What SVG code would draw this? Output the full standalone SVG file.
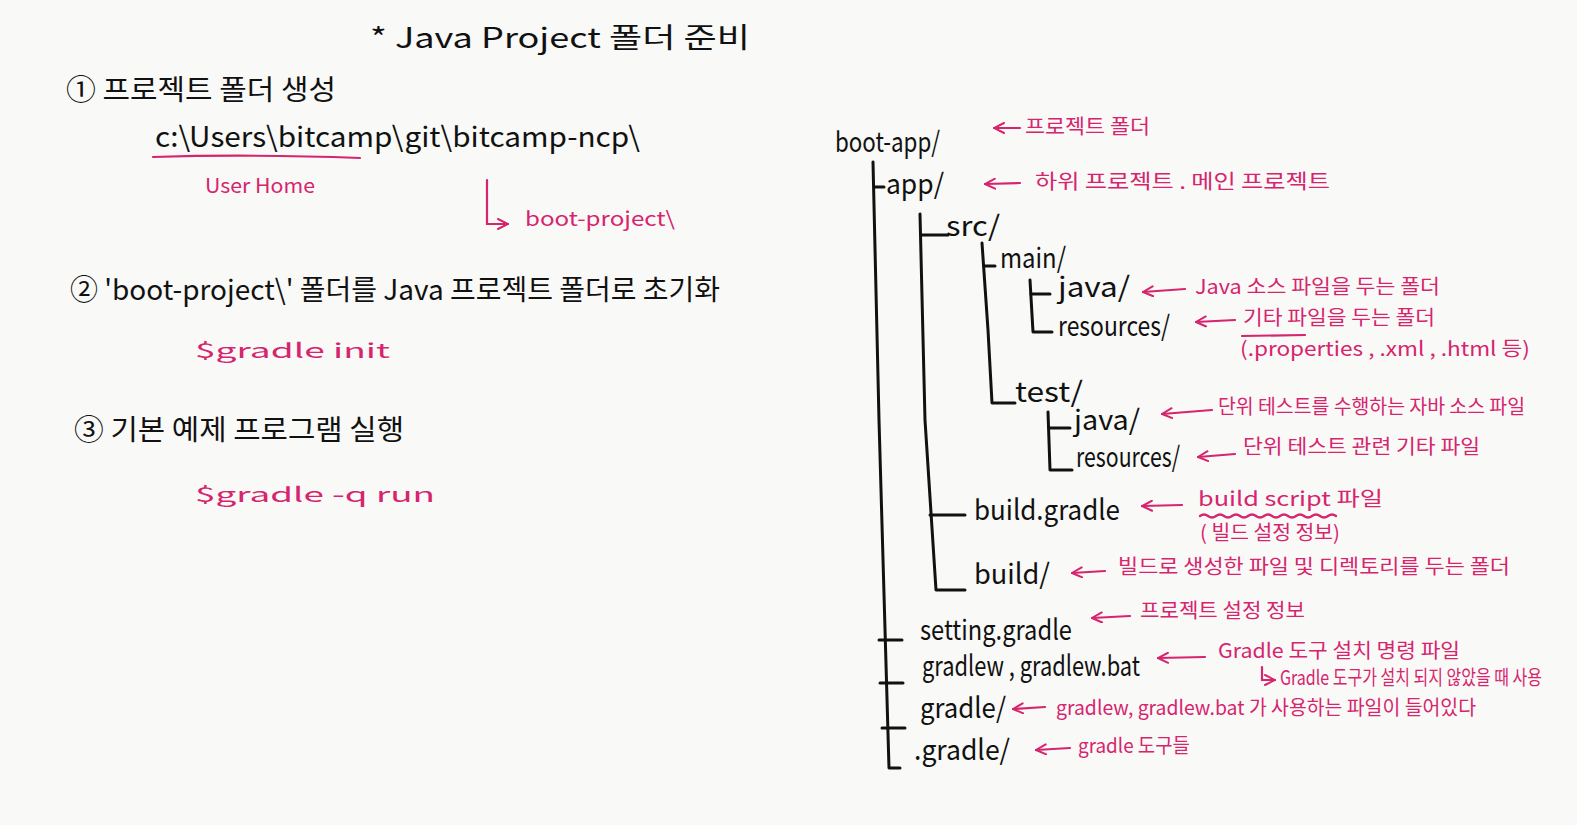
<svg xmlns="http://www.w3.org/2000/svg" width="1577" height="825" viewBox="0 0 1577 825">
<defs>
<marker id="ah" viewBox="0 0 12 12" refX="1" refY="6" markerWidth="12" markerHeight="12" markerUnits="userSpaceOnUse" orient="auto">
<path d="M11,1 L1,6 L11,11" fill="none" stroke="#d6246e" stroke-width="2" stroke-linecap="round"/>
</marker>
<marker id="ahr" viewBox="0 0 12 12" refX="11" refY="6" markerWidth="12" markerHeight="12" markerUnits="userSpaceOnUse" orient="auto">
<path d="M1,1 L11,6 L1,11" fill="none" stroke="#d6246e" stroke-width="2" stroke-linecap="round"/>
</marker>
<style>
text{font-family:"Noto Sans CJK KR","Noto Sans",sans-serif;}
.k{fill:#111;font-size:28px;}
.p{fill:#d6246e;font-size:20px;}
.tl{fill:none;stroke:#111;stroke-width:3;stroke-linecap:round;stroke-linejoin:round;}
.pa{fill:none;stroke:#d6246e;stroke-width:2.2;stroke-linecap:round;}
</style>
</defs>
<rect width="1577" height="825" fill="#f9f9f7"/>

<g id="left">
<text class="k" x="370" y="48" font-size="32" textLength="380" lengthAdjust="spacingAndGlyphs">* Java  Project 폴더 준비</text>
<text id="step1" class="k" x="66" y="100" textLength="270" lengthAdjust="spacingAndGlyphs">①  프로젝트 폴더 생성</text>
<text class="k" x="155" y="147" font-size="34" textLength="485" lengthAdjust="spacingAndGlyphs">c:\Users\bitcamp\git\bitcamp-ncp\</text>
<path class="pa" d="M153,157 Q250,154 360,158"/>
<text class="p" x="205" y="193" font-size="22" textLength="110" lengthAdjust="spacingAndGlyphs">User Home</text>
<text class="p" x="525" y="226" font-size="26" textLength="150" lengthAdjust="spacingAndGlyphs">boot-project\</text>
<text id="step2" class="k" x="70" y="300" textLength="650" lengthAdjust="spacingAndGlyphs">② 'boot-project\' 폴더를 Java 프로젝트 폴더로 초기화</text>
<text class="p" x="195" y="358" font-size="32" textLength="195" lengthAdjust="spacingAndGlyphs">$gradle  init</text>
<text id="step3" class="k" x="74" y="440" textLength="330" lengthAdjust="spacingAndGlyphs">③  기본 예제 프로그램  실행</text>
<text class="p" x="195" y="502" font-size="32" textLength="240" lengthAdjust="spacingAndGlyphs">$gradle  -q  run</text>
</g>

<g id="connectors">
<path class="pa" d="M487,180 L487,224 L508,224" marker-end="url(#ahr)"/>
<path class="tl" d="M873,162 L879,420 L889,768 L900,768"/>
<path class="tl" d="M875,187 L884,187"/>
<path class="tl" d="M879,640 L902,640"/>
<path class="tl" d="M880,683 L903,683"/>
<path class="tl" d="M882,728 L905,728"/>
<path class="tl" d="M920,214 L925,420 L936,590 L965,590"/>
<path class="tl" d="M922,235 L948,235"/>
<path class="tl" d="M930,515 L965,515"/>
<path class="tl" d="M982,243 L988,330 L992,403 L1015,403"/>
<path class="tl" d="M984,266 L995,266"/>
<path class="tl" d="M1030,280 L1033,332 L1052,332"/>
<path class="tl" d="M1031,294 L1050,294"/>
<path class="tl" d="M1048,412 L1050,470 L1072,470"/>
<path class="tl" d="M1049,428 L1070,428"/>
<path class="pa" d="M994,128 L1020,128" marker-start="url(#ah)"/>
<path class="pa" d="M985,184 L1020,183" marker-start="url(#ah)"/>
<path class="pa" d="M1143,292 L1185,289" marker-start="url(#ah)"/>
<path class="pa" d="M1196,322 L1235,320" marker-start="url(#ah)"/>
<path class="pa" d="M1162,414 L1212,410" marker-start="url(#ah)"/>
<path class="pa" d="M1198,457 L1235,454" marker-start="url(#ah)"/>
<path class="pa" d="M1142,506 L1182,505" marker-start="url(#ah)"/>
<path class="pa" d="M1072,573 L1105,571" marker-start="url(#ah)"/>
<path class="pa" d="M1092,618 L1130,616" marker-start="url(#ah)"/>
<path class="pa" d="M1158,658 L1205,657" marker-start="url(#ah)"/>
<path class="pa" d="M1013,709 L1045,707" marker-start="url(#ah)"/>
<path class="pa" d="M1036,750 L1070,748" marker-start="url(#ah)"/>
<path class="pa" d="M1262,667 L1262,680 L1275,680" marker-end="url(#ahr)"/>
</g>

<g id="boot-app"><text class="k" x="835" y="152" font-size="30" textLength="105" lengthAdjust="spacingAndGlyphs">boot-app/</text>
<text class="p" x="1025" y="134" textLength="125" lengthAdjust="spacingAndGlyphs">프로젝트 폴더</text></g>
<g id="app"><text class="k" x="886" y="194" textLength="58" lengthAdjust="spacingAndGlyphs">app/</text>
<text class="p" x="1035" y="189" font-size="24" textLength="295" lengthAdjust="spacingAndGlyphs">하위 프로젝트 .  메인 프로젝트</text></g>
<g id="src"><text class="k" x="946" y="236" font-size="23" textLength="54" lengthAdjust="spacingAndGlyphs">src/</text></g>
<g id="main"><text class="k" x="1000" y="268" font-size="22" textLength="66" lengthAdjust="spacingAndGlyphs">main/</text></g>
<g id="main-java"><text class="k" x="1058" y="297" font-size="21" textLength="72" lengthAdjust="spacingAndGlyphs">java/</text>
<text class="p" x="1195" y="294" textLength="245" lengthAdjust="spacingAndGlyphs">Java 소스 파일을 두는 폴더</text></g>
<g id="main-resources"><text class="k" x="1058" y="336" font-size="21" textLength="112" lengthAdjust="spacingAndGlyphs">resources/</text>
<text class="p" x="1243" y="325" textLength="192" lengthAdjust="spacingAndGlyphs">기타 파일을 두는 폴더</text>
<path class="pa" d="M1242,336 L1305,335"/>
<text class="p" x="1240" y="356" font-size="20" textLength="290" lengthAdjust="spacingAndGlyphs">(.properties , .xml , .html 등)</text></g>
<g id="test"><text class="k" x="1015" y="402" font-size="23" textLength="68" lengthAdjust="spacingAndGlyphs">test/</text></g>
<g id="test-java"><text class="k" x="1074" y="430" font-size="22" textLength="66" lengthAdjust="spacingAndGlyphs">java/</text>
<text class="p" x="1218" y="414" font-size="18" textLength="307" lengthAdjust="spacingAndGlyphs">단위 테스트를 수행하는 자바 소스 파일</text></g>
<g id="test-resources"><text class="k" x="1076" y="467" font-size="22" textLength="104" lengthAdjust="spacingAndGlyphs">resources/</text>
<text class="p" x="1243" y="454" textLength="237" lengthAdjust="spacingAndGlyphs">단위 테스트 관련 기타 파일</text></g>
<g id="build-gradle"><text class="k" x="974" y="520" font-size="27" textLength="146" lengthAdjust="spacingAndGlyphs">build.gradle</text>
<text class="p" x="1198" y="506" font-size="22" textLength="185" lengthAdjust="spacingAndGlyphs">build script 파일</text>
<path class="pa" d="M1200,516 q4,-3 8,0 t8,0 t8,0 t8,0 t8,0 t8,0 t8,0 t8,0 t8,0 t8,0 t8,0 t8,0 t8,0 t8,0 t8,0 t8,0 t8,0"/>
<text class="p" x="1200" y="540" textLength="140" lengthAdjust="spacingAndGlyphs">( 빌드 설정 정보)</text></g>
<g id="build"><text class="k" x="974" y="584" font-size="27" textLength="76" lengthAdjust="spacingAndGlyphs">build/</text>
<text class="p" x="1118" y="574" textLength="392" lengthAdjust="spacingAndGlyphs">빌드로 생성한 파일 및 디렉토리를 두는 폴더</text></g>
<g id="setting-gradle"><text class="k" x="920" y="640" font-size="25" textLength="152" lengthAdjust="spacingAndGlyphs">setting.gradle</text>
<text class="p" x="1140" y="618" textLength="165" lengthAdjust="spacingAndGlyphs">프로젝트 설정 정보</text></g>
<g id="gradlew"><text class="k" x="922" y="676" font-size="25" textLength="218" lengthAdjust="spacingAndGlyphs">gradlew , gradlew.bat</text>
<text class="p" x="1218" y="658" textLength="242" lengthAdjust="spacingAndGlyphs">Gradle 도구 설치 명령 파일</text>
<text class="p" x="1280" y="685" font-size="15" textLength="262" lengthAdjust="spacingAndGlyphs">Gradle 도구가 설치 되지 않았을 때 사용</text></g>
<g id="gradle-dir"><text class="k" x="920" y="718" font-size="27" textLength="86" lengthAdjust="spacingAndGlyphs">gradle/</text>
<text class="p" x="1056" y="715" font-size="19" textLength="420" lengthAdjust="spacingAndGlyphs">gradlew, gradlew.bat 가 사용하는 파일이 들어있다</text></g>
<g id="dot-gradle"><text class="k" x="914" y="760" font-size="27" textLength="96" lengthAdjust="spacingAndGlyphs">.gradle/</text>
<text class="p" x="1078" y="753" font-size="18" textLength="112" lengthAdjust="spacingAndGlyphs">gradle 도구들</text></g>
</svg>
